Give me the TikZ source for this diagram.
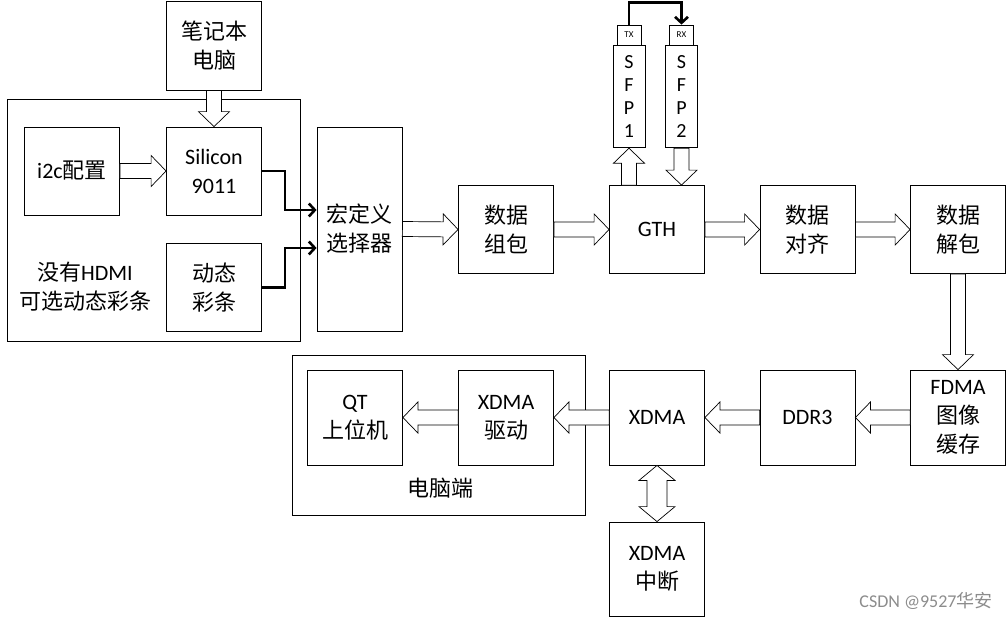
\documentclass[tikz,border=0pt]{standalone}
\usepackage{fontspec}
\setmainfont{Carlito}
\newfontfamily\cjk{Noto Sans CJK SC}
\usetikzlibrary{arrows.meta,calc}
\tikzset{
  blk/.style={draw, line width=0.8pt, minimum width=95, minimum height=88, inner sep=0, align=center, font=\fontsize{22}{29}\selectfont},
  frame/.style={draw, line width=0.8pt},
  hollow/.style={draw, line width=0.7pt, fill=white, to path={
      ($(\tikztotarget)!15pt!(\tikztostart)$) coordinate (hb)
      ($(\tikztostart)!7.5pt!90:(\tikztotarget)$)
      -- ($(hb)!7.5pt!90:(\tikztotarget)$) -- ($(hb)!15.5pt!90:(\tikztotarget)$)
      -- (\tikztotarget)
      -- ($(hb)!15.5pt!-90:(\tikztotarget)$) -- ($(hb)!7.5pt!-90:(\tikztotarget)$)
      -- ($(\tikztostart)!7.5pt!-90:(\tikztotarget)$) -- cycle}},
  hollowboth/.style={draw, line width=0.7pt, fill=white, to path={
      ($(\tikztostart)!15pt!(\tikztotarget)$) coordinate (ha)
      ($(\tikztotarget)!15pt!(\tikztostart)$) coordinate (hb)
      (\tikztostart)
      -- ($(ha)!18pt!90:(\tikztotarget)$) -- ($(ha)!10pt!90:(\tikztotarget)$)
      -- ($(hb)!10pt!90:(\tikztotarget)$) -- ($(hb)!18pt!90:(\tikztotarget)$)
      -- (\tikztotarget)
      -- ($(hb)!18pt!-90:(\tikztotarget)$) -- ($(hb)!10pt!-90:(\tikztotarget)$)
      -- ($(ha)!10pt!-90:(\tikztotarget)$) -- ($(ha)!18pt!-90:(\tikztotarget)$) -- cycle}},
  bold/.style={line width=2.6pt, -{Straight Barb[length=6pt,width=13pt]}},
}
\begin{document}
\begin{tikzpicture}[x=1pt,y=-1pt]
\useasboundingbox (0,0) rectangle (1008,619);
% group frames
\draw[frame] (7,99) rectangle (300,341);
\draw[frame] (292,355) rectangle (585,515);
\node[font=\fontsize{22}{29}\selectfont, align=center] (srclbl) at (85,287) {{\cjk 没有}HDMI\\{\cjk 可选动态彩条}};
\node[font=\fontsize{22}{29}\selectfont] (pclbl) at (440,488) {\cjk 电脑端};

% sources
\node[blk, minimum height=89] (laptop) at (214,45.5) {\cjk 笔记本\\\cjk 电脑};
\node[blk] (i2c) at (72,171) {i2c{\cjk 配置}};
\node[blk] (si) at (214,171) {Silicon\\9011};
\node[blk] (dyn) at (214,287.5) {\cjk 动态\\\cjk 彩条};
\node[blk, minimum width=85, minimum height=204] (mux) at (359.5,229) {\cjk 宏定义\\\cjk 选择器};

% upper chain
\node[blk] (pack) at (506,229.5) {\cjk 数据\\\cjk 组包};
\node[blk] (gth) at (657,229.5) {GTH};
\node[blk] (align) at (807.5,229.5) {\cjk 数据\\\cjk 对齐};
\node[blk] (unpack) at (958,229.5) {\cjk 数据\\\cjk 解包};

% sfp modules
\node[draw, line width=0.8pt, minimum width=24, minimum height=20, inner sep=0, font=\fontsize{9}{10}\selectfont] (tx) at (629,35) {TX};
\node[draw, line width=0.8pt, minimum width=32, minimum height=102, inner sep=0, align=center, font=\fontsize{20}{23}\selectfont, anchor=north] (sfp1) at (tx.south) {S\\F\\P\\1};
\node[draw, line width=0.8pt, minimum width=24, minimum height=20, inner sep=0, font=\fontsize{9}{10}\selectfont] (rx) at (681.5,35) {RX};
\node[draw, line width=0.8pt, minimum width=32, minimum height=102, inner sep=0, align=center, font=\fontsize{20}{23}\selectfont, anchor=north] (sfp2) at (rx.south) {S\\F\\P\\2};

% lower chain
\node[blk, minimum height=95] (fdma) at (958,417.5) {FDMA\\{\cjk 图像}\\{\cjk 缓存}};
\node[blk, minimum height=95] (ddr) at (807.5,417.5) {DDR3};
\node[blk, minimum height=95] (xdma) at (657,417.5) {XDMA};
\node[blk, minimum height=94] (int) at (657,569) {XDMA\\{\cjk 中断}};
\node[blk, minimum height=95] (drv) at (506,417.5) {XDMA\\{\cjk 驱动}};
\node[blk, minimum height=95] (qt) at (355,417.5) {QT\\{\cjk 上位机}};

% hollow arrows
\draw[hollow] (laptop.south) to (si.north);
\draw[hollow] (i2c.east) to (si.west);
\draw[hollow] (mux.east) to (pack.west);
\draw[hollow] (pack.east) to (gth.west);
\draw[hollow] (gth.east) to (align.west);
\draw[hollow] (align.east) to (unpack.west);
\draw[hollow] (unpack.south) to (fdma.north);
\draw[hollow] (fdma.west) to (ddr.east);
\draw[hollow] (ddr.west) to (xdma.east);
\draw[hollow] (xdma.west) to (drv.east);
\draw[hollow] (drv.west) to (qt.east);
\coordinate (g1) at (sfp1.south |- gth.north);
\coordinate (g2) at (sfp2.south |- gth.north);
\draw[hollow] (g1) to (sfp1.south);
\draw[hollow] (sfp2.south) to (g2);
\draw[hollowboth] (xdma.south) to (int.north);

% bold links
\draw[bold] (si.east) -- ++(23,0) |- ([yshift=19pt]mux.west);
\draw[bold] (dyn.east) -- ++(23,0) |- ([yshift=-19pt]mux.west);
\draw[bold] (tx.north) -- ++(0,-22) -| (rx.north);

\node[text=black!45, font=\fontsize{18}{20}\selectfont] (mark) at (926,601) {CSDN @9527{\cjk 华安}};
\end{tikzpicture}
\end{document}
